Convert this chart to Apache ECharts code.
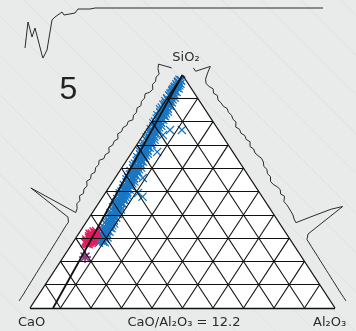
<!DOCTYPE html>
<html>
<head>
<meta charset="utf-8">
<script src="https://cdn.jsdelivr.net/npm/echarts@6/dist/echarts.min.js"></script>
<style>
  html, body { margin: 0; padding: 0; }
  body {
    background-color: #e9ebeb;
    background-image: repeating-linear-gradient(45deg, #e9ebeb 0px, #e9ebeb 26px, #e1e3e3 27px, #e9ebeb 28px);
  }
  #chart { width: 356px; height: 331px; }
</style>
</head>
<body>
<div id="chart"></div>
<script>
// ternary grid: every 10 %
var gridFractions = [0.1, 0.2, 0.3, 0.4, 0.5, 0.6, 0.7, 0.8, 0.9];
var caoAlRatio = 12.2;

// [SiO2 %, Al2O3 %], CaO is the rest
var blueCross = [
  [28,8.6],[28.5,9.7],[29,8.8],[29.5,10.0],[30,7.8],[30.5,9.1],[31,8.3],[31.5,9.5],[32,7.4],[32.5,8.6],[33,8.9],[33.5,7.7],
  [34,7.8],[34.5,8.9],[35,8.0],[35.5,9.2],[36,7.0],[36.5,8.3],[37,7.5],[37.5,8.7],[38,6.6],[38.5,7.8],[39,8.1],[39.5,6.9],
  [40,7.0],[40.5,8.1],[41,7.2],[41.5,8.4],[42,6.2],[42.5,7.5],[43,6.7],[43.5,7.9],[44,5.8],[44.5,7.0],[45,7.3],[45.5,6.1],
  [46,6.2],[46.5,7.3],[47,6.4],[47.5,7.6],[48,5.4],[48.5,6.7],[49,5.9],[49.5,7.1],[50,5.0],[50.5,6.2],[51,6.5],[51.5,5.3],
  [52,5.4],[52.5,6.5],[53,5.6],[53.5,6.8],[54,4.6],[54.5,5.9],[55,5.1],[55.5,6.3],[56,4.2],[56.5,5.4],[57,5.7],[57.5,4.5],
  [58,4.6],[58.5,5.7],[59,4.8],[59.5,6.0],[60,3.8],[60.5,5.1],[61,4.3],[61.5,5.5],[62,3.4],[62.5,4.6],[63,4.9],[63.5,3.7],
  [64,3.8],[64.5,4.9],[65,4.0],[65.5,5.2],[66,3.1],[66.5,4.3],[67,3.5],[67.5,4.8],[68,2.6],[68.5,3.8],[69,4.2],[69.5,2.9],
  [70,3.0],[70.5,4.2],[71,3.2],[71.5,4.4],[72,2.3],[72.5,3.5],[73,2.7],[73.5,4.0],[74,1.8],[74.5,3.0],[75,3.4],[75.5,2.1],
  [76,2.2],[76.5,3.4],[77,2.4],[77.5,3.6],[78,1.5],[78.5,2.7],[79,1.9],[79.5,3.2],[80,1.0],[80.5,2.2],[81,2.6],[81.5,1.3],
  [82,1.4],[82.5,2.6],[83,1.6],[83.5,2.8],[84,0.7],[84.5,1.9],[85,1.1],[85.5,2.4],[86,0.2],[86.5,1.4],[87,1.8],[87.5,0.5],
  [88,0.6],[88.5,1.8],[89,0.8],[89.5,2.0],[90,0.0],[90.5,1.1],[91,0.3],[91.5,1.6],[92,0.0],[92.5,0.6],[93,1.0],[93.5,0.0],
  [94,0.0],[94.5,1.0],[95,0.1],[95.5,1.2],[96,0.0],[96.5,0.4],[97,0.0],[97.5,0.8],[98,0.0]
];
var blueCrossB = [
  [28.25,10.4],[28.75,7.6],[29.25,9.3],[29.75,8.1],[30.25,10.3],[30.75,8.6],[31.25,7.2],[31.75,9.4],[32.25,8.2],[32.75,9.7],
  [33.25,7.3],[33.75,8.5],[34.25,9.6],[34.75,6.8],[35.25,8.5],[35.75,7.3],[36.25,9.5],[36.75,7.8],[37.25,6.4],[37.75,8.6],
  [38.25,7.4],[38.75,8.9],[39.25,6.5],[39.75,7.7],[40.25,8.8],[40.75,6.0],[41.25,7.7],[41.75,6.5],[42.25,8.7],[42.75,7.0],
  [43.25,5.6],[43.75,7.8],[44.25,6.6],[44.75,8.1],[45.25,5.7],[45.75,6.9],[46.25,8.0],[46.75,5.2],[47.25,6.9],[47.75,5.7],
  [48.25,7.9],[48.75,6.2],[49.25,4.8],[49.75,7.0],[50.25,5.8],[50.75,7.3],[51.25,4.9],[51.75,6.1],[52.25,7.2],[52.75,4.4],
  [53.25,6.2],[53.75,4.9],[54.25,7.1],[54.75,5.5],[55.25,4.0],[55.75,6.2],[56.25,5.1],[56.75,6.5],[57.25,4.1],[57.75,5.4],
  [58.25,6.4],[58.75,3.6],[59.25,5.4],[59.75,4.1],[60.25,6.3],[60.75,4.7],[61.25,3.2],[61.75,5.4],[62.25,4.3],[62.75,5.7],
  [63.25,3.3],[63.75,4.6],[64.25,5.6],[64.75,2.8],[65.25,4.6],[65.75,3.3],[66.25,5.5],[66.75,3.9],[67.25,2.4],[67.75,4.6],
  [68.25,3.5],[68.75,4.9],[69.25,2.5],[69.75,3.8],[70.25,4.8],[70.75,2.0],[71.25,3.8],[71.75,2.5],[72.25,4.7],[72.75,3.1],
  [73.25,1.6],[73.75,3.8],[74.25,2.7],[74.75,4.1],[75.25,1.7],[75.75,3.0],[76.25,4.0],[76.75,1.2],[77.25,3.0],[77.75,1.7],
  [78.25,3.9],[78.75,2.3],[79.25,0.8],[79.75,3.0],[80.25,1.9],[80.75,3.3],[81.25,0.9],[81.75,2.2],[82.25,3.2],[82.75,0.4],
  [83.25,2.2],[83.75,0.9],[84.25,3.1],[84.75,1.5],[85.25,0.0],[85.75,2.2],[86.25,1.1],[86.75,2.5],[87.25,0.1],[87.75,1.4],
  [88.25,2.4],[88.75,0.0],[89.25,1.4],[89.75,0.1],[90.25,2.3],[90.75,0.7],[91.25,0.0],[91.75,1.4],[92.25,0.3],[92.75,1.7],
  [93.25,0.0],[93.75,0.6],[94.25,1.6],[94.75,0.0],[95.25,0.7],[95.75,0.3],[96.25,1.2],[96.75,0.2],[97.25,0.0],[97.75,0.6]
];
var blueOutliers = [[76.4,11.6],[76.4,7.7],[74.2,6.5],[67,8.2],[55.8,9.1],[49.4,10.7],[47.8,13.0]];
var pinkCross = [
  [27.8,4.8],[28.2,5.6],[28.6,4.4],[29.0,5.2],[29.4,5.8],[29.8,4.6],[30.2,5.4],[30.6,4.2],[31.0,5.0],
  [31.4,5.7],[31.8,4.5],[32.2,5.2],[32.6,4.7],[28.4,5.0],[29.6,5.1],[30.4,4.8],[31.2,4.4],[30.0,5.8],
  [28.0,4.1],[29.2,4.0],[30.8,5.9],[32.0,5.9],[31.6,3.9],[28.8,6.0],[32.8,5.4],[27.6,5.3]
];
var purpleStar = [[21.9,7.1]];

// edge histograms, CaO -> SiO2 and Al2O3 -> SiO2
var leftHist = [0,0,0,0.2,0.3,0.4,0.5,0.6,0.7,0.8,0.9,1,1,1.1,1.2,1.3,1.4,1.5,1.6,1.7,1.8,1.9,2,
  1.8,5,52,1,
  2,5,4,7,5,7,6,9,7,9,7,9,8,10,7,8,6,9,7,8,6,9,7,8,6,7,4,6,5,7,5,7,6,8,5,4,7,6,8,7,
  11,13,0];
var rightHist = [0,0,0,0,0.1,0.2,0.2,0.3,0.4,0.4,0.5,0.6,0.6,0.7,0.8,0.8,0.9,1,
  1,5,49,38,20,1,1.5,2.8,3,3.2,3.2,2.5,6,4,6,5,3,2.4,5,4,6,5,7,7.5,6,5,6,4.4,7,5,6,4,5,3,6,5,6,5,6,4,4,3,5,3,5,3,2,4,9,15,0,0];

// piece of the panel above
var topBins = [25,28,32,35,42,43,47,52,55,62,64,75,78,90,95,323];
var topDepth = [40,14,29,20,47,50,42,12,9,4,7,5,1,1,0,0];

var SX = 305, SY = 233;       // px per ternary unit
var HIST_BASE = 13, HIST_SCALE = 1;

function tern(ca, si, al) {
    var t = ca + si + al;
    si = si / t; al = al / t;
    return [al + si / 2, si];
}
function fromSiAl(p) {
    return tern(100 - p[0] - p[1], p[0], p[1]);
}
function histPath(a, b, vals, side) {
    var ua = a[0] * SX, va = a[1] * SY, du = b[0] * SX - ua, dv = b[1] * SY - va;
    var len = Math.sqrt(du * du + dv * dv);
    var nx = side * (-dv) / len, ny = side * du / len;
    var out = [];
    for (var i = 0; i < vals.length; i++) {
        var t = i / (vals.length - 1), off = HIST_BASE + vals[i] * HIST_SCALE;
        out.push([(ua + du * t + nx * off) / SX, (va + dv * t + ny * off) / SY]);
    }
    return out;
}

var CA = tern(1, 0, 0), SI = tern(0, 1, 0), AL = tern(0, 0, 1);

var gridLines = [];
gridFractions.forEach(function (f) {
    gridLines.push({coords: [tern(1 - f, f, 0), tern(0, f, 1 - f)]});
    gridLines.push({coords: [tern(1 - f, 0, f), tern(0, 1 - f, f)]});
    gridLines.push({coords: [tern(f, 0, 1 - f), tern(f, 1 - f, 0)]});
});
var outline = [{coords: [CA, AL]}, {coords: [AL, SI]}, {coords: [SI, CA]}];
var ratioLine = [{coords: [SI, tern(caoAlRatio, 0, 1)]}];

var xSym = 'path://M0,1L1,0L5,4L9,0L10,1L6,5L10,9L9,10L5,6L1,10L0,9L4,5Z';
var starSym = 'path://M4.3,0h1.4v10h-1.4zM0,4.3h10v1.4h-10zM0.8,1.8L1.8,0.8L9.2,8.2L8.2,9.2zM8.2,0.8L9.2,1.8L1.8,9.2L0.8,8.2z';

var myChart = echarts.init(document.getElementById('chart'));
myChart.setOption({
    animation: false,
    grid: [
        {left: 0, right: 0, top: 0, bottom: 0},
        {left: 0, top: 0, width: 356, height: 60}
    ],
    xAxis: [
        {type: 'value', min: -30 / SX, max: 326 / SX, show: false},
        {type: 'value', min: 0, max: 356, show: false, gridIndex: 1}
    ],
    yAxis: [
        {type: 'value', min: -23 / SY, max: 308 / SY, show: false},
        {type: 'value', min: -8, max: 52, inverse: true, show: false, gridIndex: 1}
    ],
    series: [
        {
            type: 'custom', silent: true, z: 1,
            renderItem: function (params, api) {
                return {
                    type: 'polygon',
                    shape: {points: [api.coord(CA), api.coord(AL), api.coord(SI)]},
                    style: {fill: '#ffffff'}
                };
            },
            data: [0]
        },
        {
            type: 'scatter', silent: true, z: 2,
            symbol: xSym, symbolSize: 9,
            itemStyle: {color: '#1b76c2', opacity: 1},
            data: blueCross.concat(blueCrossB, blueOutliers).map(fromSiAl)
        },
        {
            type: 'scatter', silent: true, z: 3,
            symbol: xSym, symbolSize: 10,
            itemStyle: {color: '#e21a60', opacity: 1},
            data: pinkCross.map(fromSiAl)
        },
        {
            type: 'scatter', silent: true, z: 3,
            symbol: starSym, symbolSize: 12,
            itemStyle: {color: '#8c3b80', opacity: 1},
            data: purpleStar.map(fromSiAl)
        },
        {
            type: 'lines', coordinateSystem: 'cartesian2d', silent: true, z: 4,
            lineStyle: {color: '#111', width: 1.1, opacity: 1},
            data: gridLines
        },
        {
            type: 'lines', coordinateSystem: 'cartesian2d', silent: true, z: 5,
            lineStyle: {color: '#111', width: 1.3, opacity: 1},
            data: outline
        },
        {
            type: 'lines', coordinateSystem: 'cartesian2d', silent: true, z: 5,
            lineStyle: {color: '#111', width: 1.8, opacity: 1},
            data: ratioLine
        },
        {
            type: 'line', silent: true, z: 5, symbol: 'none',
            lineStyle: {color: '#2a2a2a', width: 1},
            data: histPath(CA, SI, leftHist, 1)
        },
        {
            type: 'line', silent: true, z: 5, symbol: 'none',
            lineStyle: {color: '#2a2a2a', width: 1},
            data: histPath(AL, SI, rightHist, -1)
        },
        {
            type: 'line', silent: true, z: 5, symbol: 'none',
            xAxisIndex: 1, yAxisIndex: 1,
            lineStyle: {color: '#2a2a2a', width: 1},
            data: topBins.map(function (b, i) { return [b, topDepth[i]]; })
        }
    ],
    graphic: [
        {type: 'text', x: 186, y: 58, style: {text: 'SiO\u2082', font: '13px "DejaVu Sans"', fill: '#2a2a2a', align: 'center', verticalAlign: 'middle', textAlign: 'center', textVerticalAlign: 'middle'}},
        {type: 'text', x: 68.5, y: 90, style: {text: '5', font: '32px "Liberation Sans"', fill: '#222', align: 'center', verticalAlign: 'middle', textAlign: 'center', textVerticalAlign: 'middle'}},
        {type: 'text', x: 18, y: 323, style: {text: 'CaO', font: '13px "DejaVu Sans"', fill: '#2a2a2a', align: 'left', verticalAlign: 'middle', textAlign: 'left', textVerticalAlign: 'middle'}},
        {type: 'text', x: 184, y: 323, style: {text: 'CaO/Al\u2082O\u2083 = 12.2', font: '13px "DejaVu Sans"', fill: '#2a2a2a', align: 'center', verticalAlign: 'middle', textAlign: 'center', textVerticalAlign: 'middle'}},
        {type: 'text', x: 313, y: 323, style: {text: 'Al\u2082O\u2083', font: '13px "DejaVu Sans"', fill: '#2a2a2a', align: 'left', verticalAlign: 'middle', textAlign: 'left', textVerticalAlign: 'middle'}}
    ]
});
</script>
</body>
</html>
